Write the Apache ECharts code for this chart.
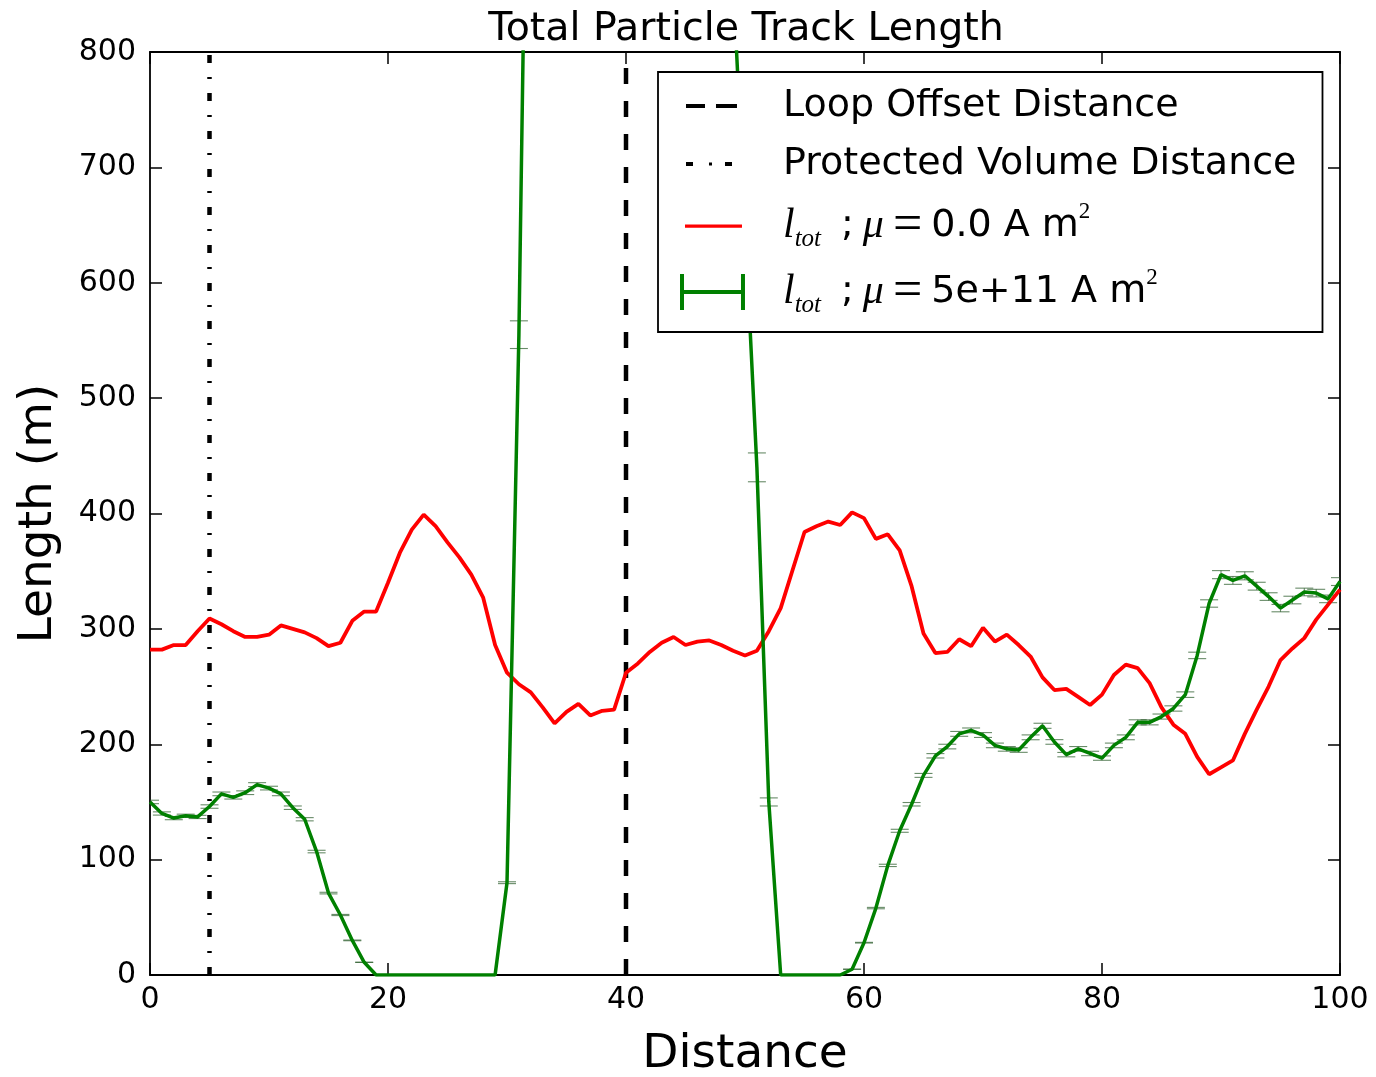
<!DOCTYPE html>
<html>
<head>
<meta charset="utf-8">
<script src="https://cdn.jsdelivr.net/npm/echarts@6/dist/echarts.min.js"></script>
<style>
html,body{margin:0;padding:0;background:#ffffff;}
#chart{width:1376px;height:1077px;}
</style>
</head>
<body>
<div id="chart"></div>
<script>
// ---------------- data ----------------
const chartTitle = 'Total Particle Track Length';
const xAxisName = 'Distance';
const yAxisName = 'Length (m)';
const xTicks = [0, 20, 40, 60, 80, 100];
const yTicks = [0, 100, 200, 300, 400, 500, 600, 700, 800];

const distance = [
  0,1,2,3,4,5,6,7,8,9,10,11,12,13,14,15,16,17,18,19,20,
  21,22,23,24,25,26,27,28,29,30,31,32,33,34,35,36,37,38,39,40,
  41,42,43,44,45,46,47,48,49,50,51,52,53,54,55,56,57,58,59,60,
  61,62,63,64,65,66,67,68,69,70,71,72,73,74,75,76,77,78,79,80,
  81,82,83,84,85,86,87,88,89,90,91,92,93,94,95,96,97,98,99,100
];

// l_tot ; mu = 0.0 A m^2  (red)
const lengthMu0 = [
  282,282,286,286,298,309,304,298,293,293,295,
  303,300,297,292,285,288,307,315,315,340,
  366,386,399,389,375,362,347,327,286,262,
  252,245,232,218,228,235,225,229,230,262,
  270,280,288,293,286,289,290,286,281,277,
  281,298,318,351,384,389,393,390,401,396,
  378,382,368,337,296,279,280,291,285,301,
  289,295,286,276,258,247,248,241,234,243,
  260,269,266,253,232,217,209,189,174,180,
  186,209,230,250,273,283,292,308,321,334
];

// l_tot ; mu = 5e+11 A m^2  (green, with error bars)
const lengthMu5e11 = [
  150,140,136,138,137,146,157,154,158,165,162,
  157,145,135,107,71,52,30,11,0,0,
  0,0,0,0,0,0,0,0,0,80,
  555,1250,1600,1900,2100,2250,2300,2350,2300,2250,
  2150,2000,1850,1650,1450,1250,1100,980,862,650,
  440,150,0,0,0,0,0,0,5,28,
  58,95,125,148,173,190,198,209,212,208,
  199,196,195,206,216,202,191,196,192,188,
  199,206,219,219,224,231,243,277,322,347,
  342,346,337,328,318,325,332,331,326,341
];
const errMu5e11 = [
  1.5,1.4,1.4,1.4,1.4,1.5,1.6,1.5,1.6,1.7,1.6,
  1.6,1.5,1.4,1.1,0.7,0.5,0.3,0.1,0,0,
  0,0,0,0,0,0,0,0,0,0.8,
  12,25,32,38,42,45,46,47,46,45,
  43,40,37,33,29,25,22,20,17,13,
  12.5,3.5,0,0,0,0,0,0,0.1,0.3,
  0.6,1,1.3,1.5,1.7,1.9,2,2.1,2.1,2.1,
  2,2,2,2.1,2.2,2,1.9,2,1.9,1.9,
  2,2.1,2.2,2.2,2.2,2.3,2.4,2.8,3.2,3.5,
  3.4,3.5,3.4,3.3,3.2,3.3,3.3,3.3,3.3,3.4
];

const loopOffsetDistance = 40;
const protectedVolumeDistance = 5;

const nameLoop = 'Loop Offset Distance';
const nameProt = 'Protected Volume Distance';
const nameRed = 'l_tot ; μ=0.0 A m²';
const nameGreen = 'l_tot ; μ=5e+11 A m²';

// ---------------- build ----------------
const redData = distance.map((d, i) => [d, lengthMu0[i]]);
const greenData = distance.map((d, i) => [d, lengthMu5e11[i]]);
const greenErrData = distance.map((d, i) => [d, lengthMu5e11[i], errMu5e11[i]]);

const FONT = 'DejaVu Sans';
const SERIF = 'Liberation Serif';

// legend icons (box 0..98 x 0..36, corner specks fix the bounding box)
const BOX = 'M0,0h0.01v0.01h-0.01z M98,36h0.01v0.01h-0.01z ';
const iconLoop = 'path://' + BOX + 'M6,16h19v4h-19z M36,16h21v4h-21z';
const iconProt = 'path://' + BOX + 'M6,16h7v4h-7z M29,16.5h3v3h-3z M45,16h7v4h-7z';
const iconRed = 'path://' + BOX + 'M5,16.5h57v3.2h-57z';
const iconGreen = 'path://' + BOX + 'M0,0h4v36h-4z M4,16h57v4h-57z M61,0h4v36h-4z';

const chart = echarts.init(document.getElementById('chart'), null, {renderer: 'canvas'});

const axisCommon = {
  axisLine: {show: true, onZero: false, lineStyle: {color: '#000', width: 1.8}},
  axisTick: {show: true, inside: true, length: 12, lineStyle: {color: '#000', width: 1.5}},
  splitLine: {show: false}
};

const option = {
  animation: false,
  backgroundColor: '#ffffff',
  title: {
    text: chartTitle,
    left: 741,
    textAlign: 'center',
    top: 5,
    textStyle: {fontFamily: FONT, fontSize: 39.5, fontWeight: 'normal', color: '#000'}
  },
  grid: {left: 150, right: 36, top: 52, bottom: 102, containLabel: false, outerBoundsMode: 'none'},
  xAxis: [
    Object.assign({
      type: 'value', position: 'bottom',
      min: xTicks[0], max: xTicks[xTicks.length - 1], interval: xTicks[1] - xTicks[0],
      name: xAxisName, nameLocation: 'middle', nameGap: 56,
      nameTextStyle: {fontFamily: FONT, fontSize: 47, color: '#000'},
      axisLabel: {show: true, margin: 10, fontFamily: FONT, fontSize: 30, color: '#000'}
    }, axisCommon),
    Object.assign({
      type: 'value', position: 'top',
      min: xTicks[0], max: xTicks[xTicks.length - 1], interval: xTicks[1] - xTicks[0],
      axisLabel: {show: false}
    }, axisCommon)
  ],
  yAxis: [
    Object.assign({
      type: 'value', position: 'left',
      min: yTicks[0], max: yTicks[yTicks.length - 1], interval: yTicks[1] - yTicks[0],
      name: yAxisName, nameLocation: 'middle', nameGap: 88,
      nameTextStyle: {fontFamily: FONT, fontSize: 47, color: '#000'},
      axisLabel: {show: true, margin: 14, fontFamily: FONT, fontSize: 30, color: '#000'}
    }, axisCommon),
    Object.assign({
      type: 'value', position: 'right',
      min: yTicks[0], max: yTicks[yTicks.length - 1], interval: yTicks[1] - yTicks[0],
      axisLabel: {show: false}
    }, axisCommon)
  ],
  legend: {
    orient: 'vertical',
    left: 658,
    top: 72,
    z: 20,
    padding: [12, 26, 14, 22],
    itemGap: 14,
    itemWidth: 98,
    itemHeight: 36,
    backgroundColor: '#ffffff',
    borderColor: '#000',
    borderWidth: 1.8,
    borderRadius: 0,
    textStyle: {
      fontFamily: FONT, fontSize: 38, color: '#000', lineHeight: 44,
      rich: {
        it: {fontFamily: SERIF, fontStyle: 'italic', fontSize: 42, lineHeight: 52, color: '#000'},
        sub: {fontFamily: SERIF, fontStyle: 'italic', fontSize: 25, lineHeight: 32, verticalAlign: 'bottom', color: '#000'},
        sup: {fontFamily: SERIF, fontSize: 23, lineHeight: 37, verticalAlign: 'top', color: '#000'},
        n: {fontFamily: FONT, fontSize: 38, lineHeight: 52, color: '#000'},
        eq: {fontFamily: SERIF, fontSize: 52, lineHeight: 52, color: '#000'},
        g1: {fontSize: 38, lineHeight: 52, width: 20},
        g2: {fontSize: 38, lineHeight: 52, width: 9},
        g3: {fontSize: 38, lineHeight: 52, width: 9}
      }
    },
    formatter: function (name) {
      if (name === nameRed) {
        return '{it|l}{sub|tot}{g1| }{n|;}{g2| }{it|μ}{g3| }{eq|=}{g3| }{n|0.0 A m}{sup|2}';
      }
      if (name === nameGreen) {
        return '{it|l}{sub|tot}{g1| }{n|;}{g2| }{it|μ}{g3| }{eq|=}{g3| }{n|5e+11 A m}{sup|2}';
      }
      return name;
    },
    data: [
      {name: nameLoop, icon: iconLoop},
      {name: nameProt, icon: iconProt},
      {name: nameRed, icon: iconRed},
      {name: nameGreen, icon: iconGreen}
    ]
  },
  series: [
    {
      name: nameLoop,
      type: 'line',
      xAxisIndex: 0, yAxisIndex: 0,
      data: [[loopOffsetDistance, yTicks[0]], [loopOffsetDistance, yTicks[yTicks.length - 1]]],
      symbol: 'none',
      lineStyle: {color: '#000', width: 4.5, type: [16, 17]},
      itemStyle: {color: '#000'},
      z: 3
    },
    {
      name: nameProt,
      type: 'line',
      xAxisIndex: 0, yAxisIndex: 0,
      data: [[protectedVolumeDistance, yTicks[0]], [protectedVolumeDistance, yTicks[yTicks.length - 1]]],
      symbol: 'none',
      lineStyle: {color: '#000', width: 4.5, type: [8, 14, 2, 14]},
      itemStyle: {color: '#000'},
      z: 3
    },
    {
      name: nameRed,
      type: 'line',
      data: redData,
      symbol: 'none',
      clip: true,
      lineStyle: {color: '#ff0000', width: 3.8},
      itemStyle: {color: '#ff0000'},
      z: 4
    },
    {
      name: nameGreen,
      type: 'line',
      data: greenData,
      symbol: 'none',
      clip: true,
      lineStyle: {color: '#008000', width: 3.5},
      itemStyle: {color: '#008000'},
      z: 4
    },
    {
      name: nameGreen,
      type: 'custom',
      data: greenErrData,
      clip: true,
      z: 4,
      renderItem: function (params, api) {
        const x = api.value(0), y = api.value(1), e = api.value(2);
        if (!(e > 0)) return null;
        const pLo = api.coord([x, y - e]);
        const pHi = api.coord([x, y + e]);
        const cw = 9;
        const st = {stroke: 'rgba(40,90,40,0.7)', lineWidth: 1.1, fill: null};
        return {
          type: 'group',
          children: [
            {type: 'line', shape: {x1: pLo[0], y1: pLo[1], x2: pHi[0], y2: pHi[1]}, style: st},
            {type: 'line', shape: {x1: pLo[0] - cw, y1: pLo[1], x2: pLo[0] + cw, y2: pLo[1]}, style: st},
            {type: 'line', shape: {x1: pHi[0] - cw, y1: pHi[1], x2: pHi[0] + cw, y2: pHi[1]}, style: st}
          ]
        };
      }
    }
  ]
};

chart.setOption(option);
</script>
</body>
</html>
